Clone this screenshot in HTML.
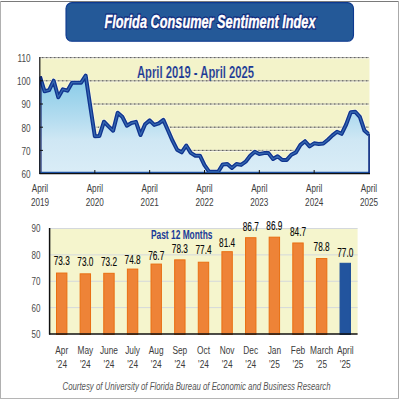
<!DOCTYPE html>
<html><head><meta charset="utf-8"><style>
html,body{margin:0;padding:0;background:#fff;}
svg{display:block;}
text{font-family:"Liberation Sans",sans-serif;}
.dash{stroke:#5a5a60;stroke-width:1;stroke-dasharray:1.4 2.6;stroke-dashoffset:2;}
.tick{stroke:#111;stroke-width:1;}
.yl{font-size:11.5px;fill:#4a4a4a;}
.xl{font-size:11.5px;fill:#3c3c3c;}
.bl{font-size:12px;fill:#0a0a0a;stroke:#0a0a0a;stroke-width:0.12;}
.g2{stroke:#d4d8dc;stroke-width:1;}
</style></head><body>
<svg width="400" height="400" viewBox="0 0 400 400">
<defs>
<clipPath id="cp"><rect x="40" y="50" width="329.5" height="123.5"/></clipPath>
<linearGradient id="ga" x1="0" y1="57.6" x2="0" y2="173.6" gradientUnits="userSpaceOnUse">
<stop offset="0" stop-color="#78c0e6"/><stop offset="0.25" stop-color="#92cfea"/><stop offset="0.37" stop-color="#a0d5ec"/><stop offset="0.54" stop-color="#b6ddf0"/><stop offset="0.71" stop-color="#cfe7f4"/><stop offset="1" stop-color="#daedf7"/>
</linearGradient>
</defs>
<rect x="0" y="0" width="400" height="400" fill="#fff"/>
<line x1="0" y1="1.5" x2="399" y2="1.5" stroke="#7a7a7a" stroke-width="1"/>
<line x1="0.5" y1="1" x2="0.5" y2="399" stroke="#b0b0b0" stroke-width="1"/>
<line x1="398.5" y1="1" x2="398.5" y2="399" stroke="#aaa" stroke-width="1"/>
<line x1="0" y1="398.5" x2="399" y2="398.5" stroke="#b5b5b5" stroke-width="1"/>
<rect x="66" y="2.6" width="287.5" height="38.7" rx="6" ry="6" fill="#245998" stroke="#0e3a90" stroke-width="1.1"/>
<text x="210" y="28.3" font-size="19px" font-weight="bold" font-style="italic" fill="#081c74" stroke="#081c74" stroke-width="2.8" stroke-opacity="0.9" text-anchor="middle" textLength="211" lengthAdjust="spacingAndGlyphs">Florida Consumer Sentiment Index</text><text x="210" y="28.3" font-size="19px" font-weight="bold" font-style="italic" fill="#fff" stroke="#fff" stroke-width="0.45" text-anchor="middle" textLength="211" lengthAdjust="spacingAndGlyphs">Florida Consumer Sentiment Index</text>
<rect x="40" y="57.5" width="329.5" height="115.8" fill="#f3f3ca"/>
<line x1="40" y1="58.60" x2="369" y2="58.60" stroke="#fbfae8" stroke-width="1"/><line x1="40" y1="57.60" x2="369" y2="57.60" stroke="#a8a8a0" stroke-width="1"/><line x1="40" y1="57.60" x2="369" y2="57.60" class="dash"/><line x1="40" y1="81.80" x2="369" y2="81.80" stroke="#fbfae8" stroke-width="1"/><line x1="40" y1="80.80" x2="369" y2="80.80" stroke="#a8a8a0" stroke-width="1"/><line x1="40" y1="80.80" x2="369" y2="80.80" class="dash"/><line x1="40" y1="105.00" x2="369" y2="105.00" stroke="#fbfae8" stroke-width="1"/><line x1="40" y1="104.00" x2="369" y2="104.00" stroke="#a8a8a0" stroke-width="1"/><line x1="40" y1="104.00" x2="369" y2="104.00" class="dash"/><line x1="40" y1="128.20" x2="369" y2="128.20" stroke="#fbfae8" stroke-width="1"/><line x1="40" y1="127.20" x2="369" y2="127.20" stroke="#a8a8a0" stroke-width="1"/><line x1="40" y1="127.20" x2="369" y2="127.20" class="dash"/><line x1="40" y1="151.40" x2="369" y2="151.40" stroke="#fbfae8" stroke-width="1"/><line x1="40" y1="150.40" x2="369" y2="150.40" stroke="#a8a8a0" stroke-width="1"/><line x1="40" y1="150.40" x2="369" y2="150.40" class="dash"/>
<path d="M40.0,173.3 L40.00,76.70 L44.57,91.30 L49.14,90.10 L53.71,80.70 L58.28,97.30 L62.85,89.30 L67.42,90.70 L71.99,82.70 L76.56,82.70 L81.12,82.70 L85.69,75.70 L90.26,106.20 L94.83,136.20 L99.40,136.00 L103.97,121.70 L108.54,126.40 L113.11,130.70 L117.68,112.70 L122.25,116.70 L126.82,125.70 L131.39,123.00 L135.96,121.90 L140.53,135.00 L145.10,124.20 L149.67,120.40 L154.24,124.90 L158.81,123.40 L163.38,119.90 L167.94,130.20 L172.51,140.70 L177.08,149.70 L181.65,152.30 L186.22,145.50 L190.79,152.90 L195.36,155.70 L199.93,155.70 L204.50,165.20 L209.07,171.70 L213.64,171.70 L218.21,171.70 L222.78,164.40 L227.35,164.00 L231.92,167.90 L236.49,164.00 L241.06,164.90 L245.62,161.70 L250.19,155.70 L254.76,151.70 L259.33,154.00 L263.90,153.10 L268.47,153.10 L273.04,159.00 L277.61,156.20 L282.18,160.10 L286.75,159.90 L291.32,154.70 L295.89,152.40 L300.46,144.90 L305.03,141.20 L309.60,146.40 L314.17,143.30 L318.74,144.00 L323.31,143.50 L327.88,139.80 L332.44,135.40 L337.01,131.70 L341.58,133.80 L346.15,124.50 L350.72,112.20 L355.29,111.80 L359.86,116.90 L364.43,130.50 L369.00,134.60 L369.0,173.3 Z" fill="url(#ga)" stroke="#1c4a9a" stroke-width="1.5"/>
<g clip-path="url(#cp)"><polyline points="40.00,76.70 44.57,91.30 49.14,90.10 53.71,80.70 58.28,97.30 62.85,89.30 67.42,90.70 71.99,82.70 76.56,82.70 81.12,82.70 85.69,75.70 90.26,106.20 94.83,136.20 99.40,136.00 103.97,121.70 108.54,126.40 113.11,130.70 117.68,112.70 122.25,116.70 126.82,125.70 131.39,123.00 135.96,121.90 140.53,135.00 145.10,124.20 149.67,120.40 154.24,124.90 158.81,123.40 163.38,119.90 167.94,130.20 172.51,140.70 177.08,149.70 181.65,152.30 186.22,145.50 190.79,152.90 195.36,155.70 199.93,155.70 204.50,165.20 209.07,171.70 213.64,171.70 218.21,171.70 222.78,164.40 227.35,164.00 231.92,167.90 236.49,164.00 241.06,164.90 245.62,161.70 250.19,155.70 254.76,151.70 259.33,154.00 263.90,153.10 268.47,153.10 273.04,159.00 277.61,156.20 282.18,160.10 286.75,159.90 291.32,154.70 295.89,152.40 300.46,144.90 305.03,141.20 309.60,146.40 314.17,143.30 318.74,144.00 323.31,143.50 327.88,139.80 332.44,135.40 337.01,131.70 341.58,133.80 346.15,124.50 350.72,112.20 355.29,111.80 359.86,116.90 364.43,130.50 369.00,134.60" fill="none" stroke="#fcfae6" stroke-opacity="0.8" stroke-width="5.5" stroke-linejoin="round"/><path d="M40.0,173.3 L40.00,76.70 L44.57,91.30 L49.14,90.10 L53.71,80.70 L58.28,97.30 L62.85,89.30 L67.42,90.70 L71.99,82.70 L76.56,82.70 L81.12,82.70 L85.69,75.70 L90.26,106.20 L94.83,136.20 L99.40,136.00 L103.97,121.70 L108.54,126.40 L113.11,130.70 L117.68,112.70 L122.25,116.70 L126.82,125.70 L131.39,123.00 L135.96,121.90 L140.53,135.00 L145.10,124.20 L149.67,120.40 L154.24,124.90 L158.81,123.40 L163.38,119.90 L167.94,130.20 L172.51,140.70 L177.08,149.70 L181.65,152.30 L186.22,145.50 L190.79,152.90 L195.36,155.70 L199.93,155.70 L204.50,165.20 L209.07,171.70 L213.64,171.70 L218.21,171.70 L222.78,164.40 L227.35,164.00 L231.92,167.90 L236.49,164.00 L241.06,164.90 L245.62,161.70 L250.19,155.70 L254.76,151.70 L259.33,154.00 L263.90,153.10 L268.47,153.10 L273.04,159.00 L277.61,156.20 L282.18,160.10 L286.75,159.90 L291.32,154.70 L295.89,152.40 L300.46,144.90 L305.03,141.20 L309.60,146.40 L314.17,143.30 L318.74,144.00 L323.31,143.50 L327.88,139.80 L332.44,135.40 L337.01,131.70 L341.58,133.80 L346.15,124.50 L350.72,112.20 L355.29,111.80 L359.86,116.90 L364.43,130.50 L369.00,134.60 L369.0,173.3 Z" fill="url(#ga)"/><polyline points="40.00,76.70 44.57,91.30 49.14,90.10 53.71,80.70 58.28,97.30 62.85,89.30 67.42,90.70 71.99,82.70 76.56,82.70 81.12,82.70 85.69,75.70 90.26,106.20 94.83,136.20 99.40,136.00 103.97,121.70 108.54,126.40 113.11,130.70 117.68,112.70 122.25,116.70 126.82,125.70 131.39,123.00 135.96,121.90 140.53,135.00 145.10,124.20 149.67,120.40 154.24,124.90 158.81,123.40 163.38,119.90 167.94,130.20 172.51,140.70 177.08,149.70 181.65,152.30 186.22,145.50 190.79,152.90 195.36,155.70 199.93,155.70 204.50,165.20 209.07,171.70 213.64,171.70 218.21,171.70 222.78,164.40 227.35,164.00 231.92,167.90 236.49,164.00 241.06,164.90 245.62,161.70 250.19,155.70 254.76,151.70 259.33,154.00 263.90,153.10 268.47,153.10 273.04,159.00 277.61,156.20 282.18,160.10 286.75,159.90 291.32,154.70 295.89,152.40 300.46,144.90 305.03,141.20 309.60,146.40 314.17,143.30 318.74,144.00 323.31,143.50 327.88,139.80 332.44,135.40 337.01,131.70 341.58,133.80 346.15,124.50 350.72,112.20 355.29,111.80 359.86,116.90 364.43,130.50 369.00,134.60" fill="none" stroke="#10358f" stroke-width="4" stroke-linejoin="round"/><polyline points="40.00,76.70 44.57,91.30 49.14,90.10 53.71,80.70 58.28,97.30 62.85,89.30 67.42,90.70 71.99,82.70 76.56,82.70 81.12,82.70 85.69,75.70 90.26,106.20 94.83,136.20 99.40,136.00 103.97,121.70 108.54,126.40 113.11,130.70 117.68,112.70 122.25,116.70 126.82,125.70 131.39,123.00 135.96,121.90 140.53,135.00 145.10,124.20 149.67,120.40 154.24,124.90 158.81,123.40 163.38,119.90 167.94,130.20 172.51,140.70 177.08,149.70 181.65,152.30 186.22,145.50 190.79,152.90 195.36,155.70 199.93,155.70 204.50,165.20 209.07,171.70 213.64,171.70 218.21,171.70 222.78,164.40 227.35,164.00 231.92,167.90 236.49,164.00 241.06,164.90 245.62,161.70 250.19,155.70 254.76,151.70 259.33,154.00 263.90,153.10 268.47,153.10 273.04,159.00 277.61,156.20 282.18,160.10 286.75,159.90 291.32,154.70 295.89,152.40 300.46,144.90 305.03,141.20 309.60,146.40 314.17,143.30 318.74,144.00 323.31,143.50 327.88,139.80 332.44,135.40 337.01,131.70 341.58,133.80 346.15,124.50 350.72,112.20 355.29,111.80 359.86,116.90 364.43,130.50 369.00,134.60" fill="none" stroke="#3567b0" stroke-width="1.3" stroke-linejoin="round"/></g>
<line x1="41" y1="76.0" x2="41" y2="173" stroke="#08186a" stroke-width="1.1"/><line x1="40" y1="172.4" x2="369" y2="172.4" stroke="#1c50a0" stroke-width="1.2"/><line x1="369" y1="133.9" x2="369" y2="173" stroke="#0c2a80" stroke-width="1.5"/><line x1="39.8" y1="57" x2="39.8" y2="174" stroke="#111" stroke-width="1.2"/>
<line x1="39.5" y1="173.6" x2="370" y2="173.6" stroke="#111" stroke-width="1.2"/>
<line x1="94.83" y1="170" x2="94.83" y2="173.3" class="tick"/><line x1="149.67" y1="170" x2="149.67" y2="173.3" class="tick"/><line x1="204.50" y1="170" x2="204.50" y2="173.3" class="tick"/><line x1="259.33" y1="170" x2="259.33" y2="173.3" class="tick"/><line x1="314.17" y1="170" x2="314.17" y2="173.3" class="tick"/><line x1="40" y1="80.80" x2="43" y2="80.80" class="tick"/><line x1="40" y1="104.00" x2="43" y2="104.00" class="tick"/><line x1="40" y1="127.20" x2="43" y2="127.20" class="tick"/><line x1="40" y1="150.40" x2="43" y2="150.40" class="tick"/>
<text x="195.5" y="77.8" font-size="16px" font-weight="bold" fill="#1a3896" stroke="#f4f2cc" stroke-width="0.15" text-anchor="middle" textLength="117" lengthAdjust="spacingAndGlyphs">April 2019 - April 2025</text>
<text transform="translate(30.65,0) scale(0.714,1)" x="0" y="62.00" class="yl" text-anchor="end">110</text><text transform="translate(30.65,0) scale(0.714,1)" x="0" y="85.20" class="yl" text-anchor="end">100</text><text transform="translate(30.65,0) scale(0.714,1)" x="0" y="108.40" class="yl" text-anchor="end">90</text><text transform="translate(30.65,0) scale(0.714,1)" x="0" y="131.60" class="yl" text-anchor="end">80</text><text transform="translate(30.65,0) scale(0.714,1)" x="0" y="154.80" class="yl" text-anchor="end">70</text><text transform="translate(30.65,0) scale(0.714,1)" x="0" y="178.00" class="yl" text-anchor="end">60</text>
<text transform="translate(40.00,0) scale(0.71,1)" x="0" y="191.80" class="xl" text-anchor="middle">April</text><text transform="translate(40.00,0) scale(0.71,1)" x="0" y="206.20" class="xl" text-anchor="middle">2019</text><text transform="translate(94.83,0) scale(0.71,1)" x="0" y="191.80" class="xl" text-anchor="middle">April</text><text transform="translate(94.83,0) scale(0.71,1)" x="0" y="206.20" class="xl" text-anchor="middle">2020</text><text transform="translate(149.67,0) scale(0.71,1)" x="0" y="191.80" class="xl" text-anchor="middle">April</text><text transform="translate(149.67,0) scale(0.71,1)" x="0" y="206.20" class="xl" text-anchor="middle">2021</text><text transform="translate(204.50,0) scale(0.71,1)" x="0" y="191.80" class="xl" text-anchor="middle">April</text><text transform="translate(204.50,0) scale(0.71,1)" x="0" y="206.20" class="xl" text-anchor="middle">2022</text><text transform="translate(259.33,0) scale(0.71,1)" x="0" y="191.80" class="xl" text-anchor="middle">April</text><text transform="translate(259.33,0) scale(0.71,1)" x="0" y="206.20" class="xl" text-anchor="middle">2023</text><text transform="translate(314.17,0) scale(0.71,1)" x="0" y="191.80" class="xl" text-anchor="middle">April</text><text transform="translate(314.17,0) scale(0.71,1)" x="0" y="206.20" class="xl" text-anchor="middle">2024</text><text transform="translate(369.00,0) scale(0.71,1)" x="0" y="191.80" class="xl" text-anchor="middle">April</text><text transform="translate(369.00,0) scale(0.71,1)" x="0" y="206.20" class="xl" text-anchor="middle">2025</text>
<rect x="49.6" y="228.5" width="308" height="105.5" fill="#f5f5cd"/>
<line x1="49.6" y1="228.50" x2="357.6" y2="228.50" class="g2"/><line x1="49.6" y1="254.88" x2="357.6" y2="254.88" class="g2"/><line x1="49.6" y1="281.25" x2="357.6" y2="281.25" class="g2"/><line x1="49.6" y1="307.62" x2="357.6" y2="307.62" class="g2"/>
<rect x="56.50" y="273.05" width="10.4" height="61.45" fill="#ee8337" stroke="#e96f12" stroke-width="1"/><rect x="80.13" y="273.84" width="10.4" height="60.66" fill="#ee8337" stroke="#e96f12" stroke-width="1"/><rect x="103.76" y="273.31" width="10.4" height="61.19" fill="#ee8337" stroke="#e96f12" stroke-width="1"/><rect x="127.39" y="269.09" width="10.4" height="65.41" fill="#ee8337" stroke="#e96f12" stroke-width="1"/><rect x="151.02" y="264.08" width="10.4" height="70.42" fill="#ee8337" stroke="#e96f12" stroke-width="1"/><rect x="174.65" y="259.86" width="10.4" height="74.64" fill="#ee8337" stroke="#e96f12" stroke-width="1"/><rect x="198.28" y="262.23" width="10.4" height="72.27" fill="#ee8337" stroke="#e96f12" stroke-width="1"/><rect x="221.91" y="251.68" width="10.4" height="82.82" fill="#ee8337" stroke="#e96f12" stroke-width="1"/><rect x="245.54" y="237.70" width="10.4" height="96.80" fill="#ee8337" stroke="#e96f12" stroke-width="1"/><rect x="269.17" y="237.18" width="10.4" height="97.32" fill="#ee8337" stroke="#e96f12" stroke-width="1"/><rect x="292.80" y="242.98" width="10.4" height="91.52" fill="#ee8337" stroke="#e96f12" stroke-width="1"/><rect x="316.43" y="258.54" width="10.4" height="75.96" fill="#ee8337" stroke="#e96f12" stroke-width="1"/><rect x="340.06" y="263.29" width="10.4" height="71.21" fill="#22549e" stroke="#1d4f9a" stroke-width="1"/>
<line x1="49.6" y1="228" x2="49.6" y2="334.5" stroke="#111" stroke-width="1.5"/>
<line x1="49" y1="334" x2="357.6" y2="334" stroke="#111" stroke-width="1.5"/>
<text x="181.7" y="239" font-size="12px" font-weight="bold" fill="#1a3a98" text-anchor="middle" textLength="61.5" lengthAdjust="spacingAndGlyphs">Past 12 Months</text>
<text transform="translate(61.70,0) scale(0.69,1)" x="0" y="264.55" class="bl" text-anchor="middle">73.3</text><text transform="translate(85.33,0) scale(0.69,1)" x="0" y="265.75" class="bl" text-anchor="middle">73.0</text><text transform="translate(108.96,0) scale(0.69,1)" x="0" y="265.75" class="bl" text-anchor="middle">73.2</text><text transform="translate(132.59,0) scale(0.69,1)" x="0" y="264.05" class="bl" text-anchor="middle">74.8</text><text transform="translate(156.22,0) scale(0.69,1)" x="0" y="260.05" class="bl" text-anchor="middle">76.7</text><text transform="translate(179.85,0) scale(0.69,1)" x="0" y="252.65" class="bl" text-anchor="middle">78.3</text><text transform="translate(203.48,0) scale(0.69,1)" x="0" y="254.15" class="bl" text-anchor="middle">77.4</text><text transform="translate(227.11,0) scale(0.69,1)" x="0" y="247.05" class="bl" text-anchor="middle">81.4</text><text transform="translate(250.74,0) scale(0.69,1)" x="0" y="230.75" class="bl" text-anchor="middle">86.7</text><text transform="translate(274.37,0) scale(0.69,1)" x="0" y="230.40" class="bl" text-anchor="middle">86.9</text><text transform="translate(298.00,0) scale(0.69,1)" x="0" y="235.75" class="bl" text-anchor="middle">84.7</text><text transform="translate(321.63,0) scale(0.69,1)" x="0" y="251.40" class="bl" text-anchor="middle">78.8</text><text transform="translate(345.26,0) scale(0.69,1)" x="0" y="256.65" class="bl" text-anchor="middle">77.0</text>
<text transform="translate(40.50,0) scale(0.7,1)" x="0" y="232.50" class="yl" text-anchor="end">90</text><text transform="translate(40.50,0) scale(0.7,1)" x="0" y="258.88" class="yl" text-anchor="end">80</text><text transform="translate(40.50,0) scale(0.7,1)" x="0" y="285.25" class="yl" text-anchor="end">70</text><text transform="translate(40.50,0) scale(0.7,1)" x="0" y="311.62" class="yl" text-anchor="end">60</text><text transform="translate(40.50,0) scale(0.7,1)" x="0" y="338.00" class="yl" text-anchor="end">50</text>
<text transform="translate(61.70,0) scale(0.724,1)" x="0" y="353.70" class="xl" text-anchor="middle">Apr</text><text transform="translate(61.70,0) scale(0.724,1)" x="0" y="368.00" class="xl" text-anchor="middle">'24</text><text transform="translate(85.33,0) scale(0.724,1)" x="0" y="353.70" class="xl" text-anchor="middle">May</text><text transform="translate(85.33,0) scale(0.724,1)" x="0" y="368.00" class="xl" text-anchor="middle">'24</text><text transform="translate(108.96,0) scale(0.724,1)" x="0" y="353.70" class="xl" text-anchor="middle">June</text><text transform="translate(108.96,0) scale(0.724,1)" x="0" y="368.00" class="xl" text-anchor="middle">'24</text><text transform="translate(132.59,0) scale(0.724,1)" x="0" y="353.70" class="xl" text-anchor="middle">July</text><text transform="translate(132.59,0) scale(0.724,1)" x="0" y="368.00" class="xl" text-anchor="middle">'24</text><text transform="translate(156.22,0) scale(0.724,1)" x="0" y="353.70" class="xl" text-anchor="middle">Aug</text><text transform="translate(156.22,0) scale(0.724,1)" x="0" y="368.00" class="xl" text-anchor="middle">'24</text><text transform="translate(179.85,0) scale(0.724,1)" x="0" y="353.70" class="xl" text-anchor="middle">Sep</text><text transform="translate(179.85,0) scale(0.724,1)" x="0" y="368.00" class="xl" text-anchor="middle">'24</text><text transform="translate(203.48,0) scale(0.724,1)" x="0" y="353.70" class="xl" text-anchor="middle">Oct</text><text transform="translate(203.48,0) scale(0.724,1)" x="0" y="368.00" class="xl" text-anchor="middle">'24</text><text transform="translate(227.11,0) scale(0.724,1)" x="0" y="353.70" class="xl" text-anchor="middle">Nov</text><text transform="translate(227.11,0) scale(0.724,1)" x="0" y="368.00" class="xl" text-anchor="middle">'24</text><text transform="translate(250.74,0) scale(0.724,1)" x="0" y="353.70" class="xl" text-anchor="middle">Dec</text><text transform="translate(250.74,0) scale(0.724,1)" x="0" y="368.00" class="xl" text-anchor="middle">'24</text><text transform="translate(274.37,0) scale(0.724,1)" x="0" y="353.70" class="xl" text-anchor="middle">Jan</text><text transform="translate(274.37,0) scale(0.724,1)" x="0" y="368.00" class="xl" text-anchor="middle">'25</text><text transform="translate(298.00,0) scale(0.724,1)" x="0" y="353.70" class="xl" text-anchor="middle">Feb</text><text transform="translate(298.00,0) scale(0.724,1)" x="0" y="368.00" class="xl" text-anchor="middle">'25</text><text transform="translate(321.63,0) scale(0.724,1)" x="0" y="353.70" class="xl" text-anchor="middle">March</text><text transform="translate(321.63,0) scale(0.724,1)" x="0" y="368.00" class="xl" text-anchor="middle">'25</text><text transform="translate(345.26,0) scale(0.724,1)" x="0" y="353.70" class="xl" text-anchor="middle">April</text><text transform="translate(345.26,0) scale(0.724,1)" x="0" y="368.00" class="xl" text-anchor="middle">'25</text>
<text x="196.5" y="389.5" font-size="11px" font-style="italic" fill="#555" text-anchor="middle" textLength="268" lengthAdjust="spacingAndGlyphs">Courtesy of University of Florida Bureau of Economic and Business Research</text>
</svg>
</body></html>
